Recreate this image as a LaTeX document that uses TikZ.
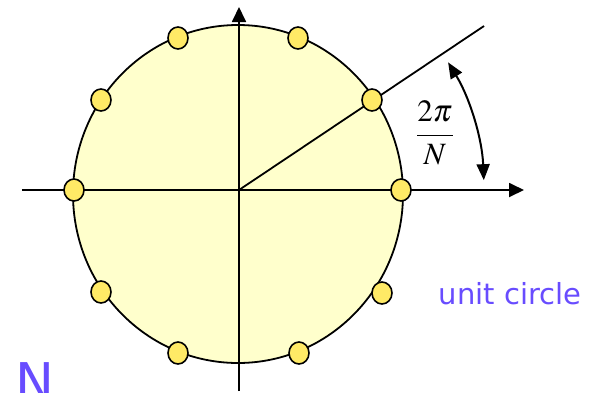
\documentclass[tikz,border=0pt]{standalone}
\usepackage{mathptmx}
\usepackage[no-math]{fontspec}
\newfontfamily\lblfont{DejaVu Sans}
\usepackage{xcolor}
\usepackage{tikz}
\usetikzlibrary{positioning,arrows.meta,shapes.geometric}
\definecolor{disk}{RGB}{255,255,204}
\definecolor{smp}{RGB}{255,234,102}
\definecolor{lblpurple}{RGB}{104,76,255}
\tikzset{
  pnt/.style={ellipse, fill=smp, draw=black, line width=1.6pt, minimum width=20pt, minimum height=22pt, inner sep=0pt},
  crc/.style={fill=disk, draw=black, line width=1.8pt},
  ax/.style={draw=black, line width=1.8pt, -{Triangle[length=15pt,width=14pt]}},
  ray/.style={draw=black, line width=1.8pt},
  ang/.style={draw=black, line width=2pt, {Triangle[length=16pt,width=13pt]}-{Triangle[length=16pt,width=13pt]}},
  lbl/.style={text=lblpurple, inner sep=0pt},
  unitcircle/.style={x=1pt, y=1pt}
}

\begin{document}
\begin{tikzpicture}[unitcircle]
  \clip (-239,-202) rectangle (354,190);
  \coordinate (O) at (0,0);
  \coordinate (xl) at (-217,0);
  \coordinate (xr) at (285,0);
  \coordinate (yb) at (0,-201);
  \coordinate (yt) at (0,183);
  \coordinate (re) at (245,164);
  \coordinate (a1) at (2.3:245);
  \filldraw[crc] (-1,-4) ellipse [x radius=165, y radius=169];
  \draw[ax] (xl) -- (xr);
  \draw[ax] (yb) -- (yt);
  \draw[ray] (O) -- (re);
  \draw[ang] (a1) arc[start angle=2.3, end angle=31.4, radius=245];
  % samples on the circle
  \foreach \x/\y [count=\i] in {-165/0, -138/90, -61/152, 59/152, 133/90,
      162/0, 143/-103, 60/-163, -61/-163, -138/-102}
    \node[pnt] (p\i) at (\x,\y) {};
  \node (frac) at (196,57) {\fontsize{31}{36}\selectfont $\displaystyle\frac{2\pi}{N}$};
  \node[lbl] (uc) at (271,-104) {\lblfont\fontsize{29}{34}\selectfont unit circle};
  \node[lbl, anchor=north west] (nn) at (-224,-172) {\lblfont\fontsize{52}{60}\selectfont N};
\end{tikzpicture}
\end{document}
